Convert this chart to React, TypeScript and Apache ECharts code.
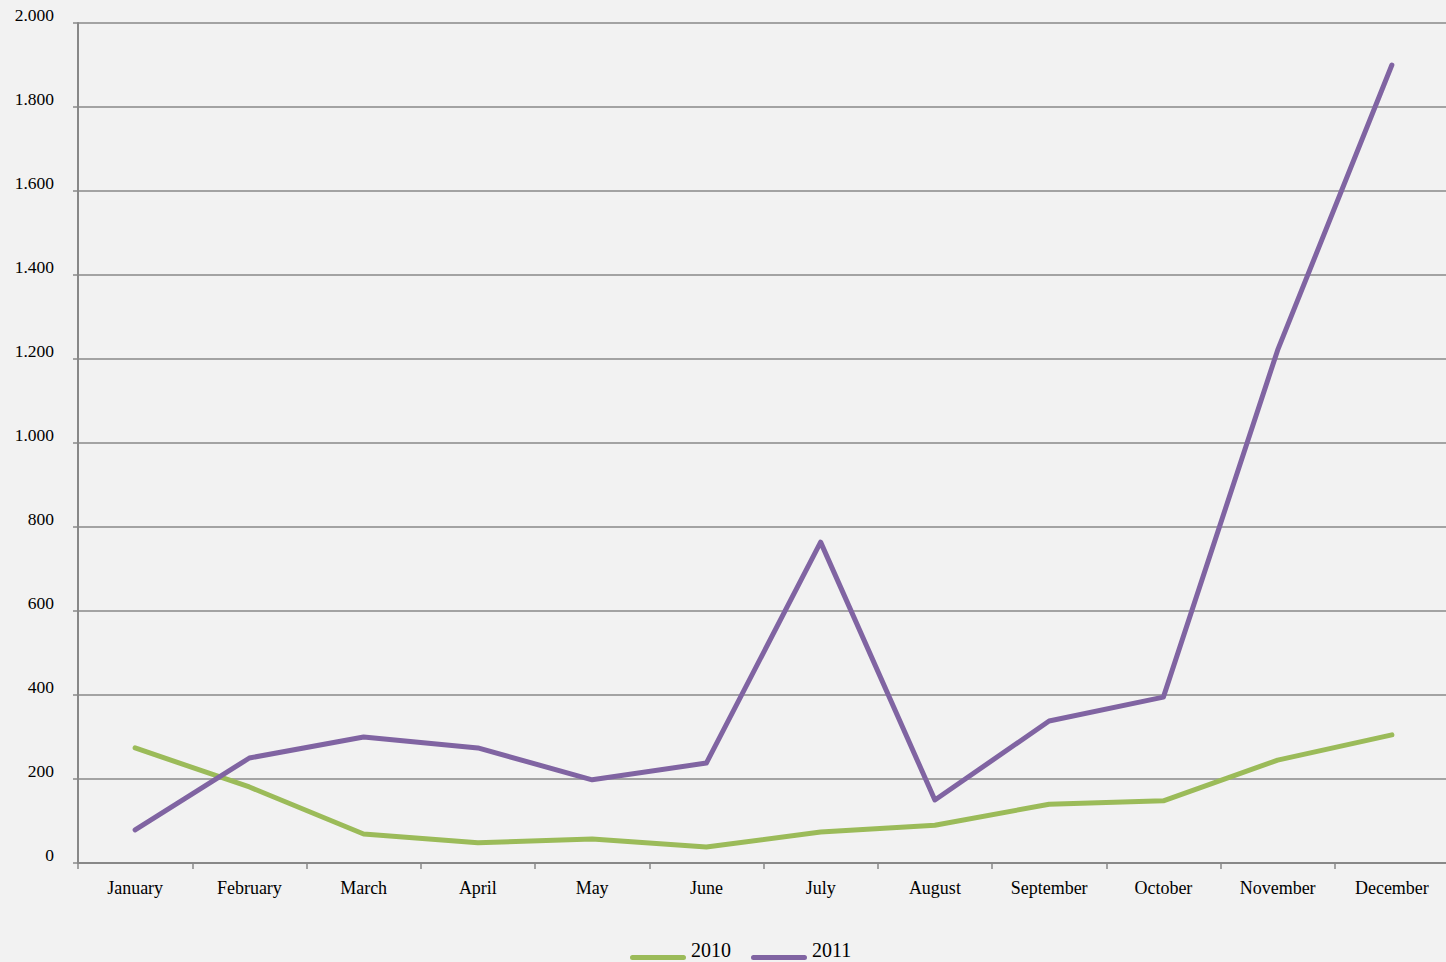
import React, { useEffect, useRef } from "react";
import * as echarts from "echarts";

const months = ["January", "February", "March", "April", "May", "June", "July", "August", "September", "October", "November", "December"];
const series2010 = [274, 181, 69, 48, 57, 38, 74, 90, 140, 148, 245, 305];
const series2011 = [79, 250, 300, 274, 198, 238, 764, 150, 338, 395, 1221, 1900];

const FONT = "Liberation Serif";
const LEGEND_ICON = "path://M0,0 M56,0 M2.5,16 L53.5,16 A2.5,2.5 0 0 1 53.5,21 L2.5,21 A2.5,2.5 0 0 1 2.5,16 Z";

export default function App() {
  const ref = useRef<HTMLDivElement>(null);
  useEffect(() => {
    const chart = echarts.init(ref.current!, undefined, { renderer: "svg" });
    chart.setOption({
      animation: false,
      backgroundColor: "#f2f2f2",
      textStyle: { fontFamily: FONT },
      grid: { left: 78, top: 23, width: 1371, height: 840, containLabel: false },
      legend: {
        bottom: 2,
        left: 630,
        padding: 0,
        icon: LEGEND_ICON,
        itemWidth: 56,
        itemHeight: 21,
        itemGap: 20,
        textStyle: { fontFamily: FONT, fontSize: 20, color: "#000" },
        data: ["2010", "2011"],
      },
      xAxis: {
        type: "category",
        data: months,
        boundaryGap: true,
        axisLine: { lineStyle: { color: "#888", width: 2 } },
        axisTick: { show: true, length: 6, lineStyle: { color: "#888", width: 1.5 } },
        axisLabel: { fontFamily: FONT, fontSize: 18, color: "#000", margin: 16, interval: 0 },
      },
      yAxis: {
        type: "value",
        min: 0,
        max: 2000,
        interval: 200,
        axisLine: { show: true, lineStyle: { color: "#888", width: 2 } },
        axisTick: { show: true, length: 5, lineStyle: { color: "#888", width: 1.5 } },
        splitLine: { lineStyle: { color: "#888", width: 1.5 } },
        axisLabel: {
          fontFamily: FONT,
          fontSize: 17.5,
          color: "#000",
          margin: 24,
          verticalAlign: "bottom",
          lineHeight: 17,
          formatter: (v: number) => v.toString().replace(/\B(?=(\d{3})+(?!\d))/g, "."),
        },
      },
      series: [
        {
          name: "2010",
          type: "line",
          data: series2010,
          showSymbol: false,
          symbol: "none",
          itemStyle: { color: "#9bbb59" },
          lineStyle: { color: "#9bbb59", width: 5, cap: "round", join: "round" },
        },
        {
          name: "2011",
          type: "line",
          data: series2011,
          showSymbol: false,
          symbol: "none",
          itemStyle: { color: "#8064a2" },
          lineStyle: { color: "#8064a2", width: 5, cap: "round", join: "round" },
        },
      ],
    });
    return () => chart.dispose();
  }, []);
  return (
    <div style={{ position: "absolute", left: 0, top: 0, width: 1446, height: 962, overflow: "hidden" }}>
      <div ref={ref} style={{ width: 1460, height: 962 }} />
    </div>
  );
}
